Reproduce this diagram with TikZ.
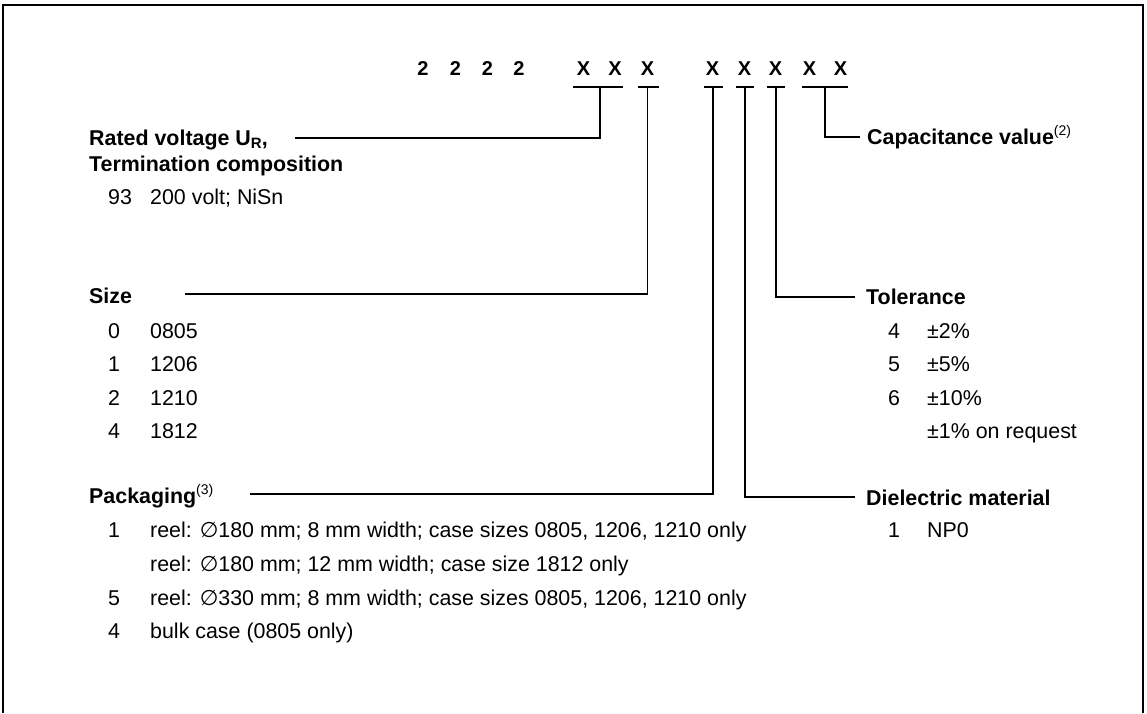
\documentclass[tikz,border=0pt]{standalone}
\usepackage{fontspec}
\setmainfont{Liberation Sans}
\newfontfamily\dejavu{DejaVu Sans}
\newcommand{\dia}{{\dejavu ∅}}
\newcommand{\supr}[1]{\raisebox{0.75ex}{\mdseries\fontsize{14}{14}\selectfont #1}}
\begin{document}
\begin{tikzpicture}[x=1pt,y=-1pt,
  lbl/.style={anchor=base west,inner sep=0pt,font=\fontsize{21.4}{24}\selectfont},
  hd/.style={anchor=base west,inner sep=0pt,font=\fontsize{21.4}{24}\selectfont\bfseries},
  code/.style={anchor=base,inner sep=0pt,font=\fontsize{20}{24}\selectfont\bfseries},
  ln/.style={line width=1.4pt},
  ul/.style={line width=1.2pt},
  frame/.style={line width=2pt}]
\useasboundingbox (0,0) rectangle (1147,713);
\draw[frame] (3,713) -- (3,5) -- (1143,5) -- (1143,713);
% code
\foreach \x/\n in {423/d1,455.5/d2,487.5/d3,519/d4}
  \node[code] (\n) at (\x,75) {2};
\foreach \x/\n in {583.5/x1,615/x2,647.5/x3,712.5/x4,744.5/x5,775.5/x6,809.5/x7,840.5/x8}
  \node[code] (\n) at (\x,75) {X};
% underlines
\draw[ul] (573,87) -- (623,87);
\draw[ul] (638,87) -- (659,87);
\draw[ul] (704,87) -- (723,87);
\draw[ul] (736,87) -- (754,87);
\draw[ul] (767,87) -- (785,87);
\draw[ul] (802,87) -- (848,87);
% bend coordinates
\coordinate (rT) at (600,87);   \coordinate (rE) at (295,138);
\coordinate (sT) at (647.5,87); \coordinate (sE) at (185,294);
\coordinate (pT) at (713,87);   \coordinate (pE) at (250,494);
\coordinate (dT) at (745,87);   \coordinate (dE) at (855,497);
\coordinate (tT) at (776,87);   \coordinate (tE) at (855,297);
\coordinate (cT) at (825,87);   \coordinate (cE) at (860,137);
\draw[ln] (rT) |- (rE);
\draw[ln] (sT) |- (sE);
\draw[ln] (pT) |- (pE);
\draw[ln] (dT) |- (dE);
\draw[ln] (tT) |- (tE);
\draw[ln] (cT) |- (cE);
% left column
\node[hd] (rated) at (89,145) {Rated voltage U\raisebox{-0.3ex}{\fontsize{15}{15}\selectfont R},};
\node[hd] (term) at (89,171) {Termination composition};
\node[lbl] (v93) at (108,204) {93};
\node[lbl] (v93t) at (150,204) {200 volt; NiSn};
\node[hd] (size) at (89,303) {Size};
\foreach \y/\a/\b in {338/0/0805,371.5/1/1206,405/2/1210,438.5/4/1812}{
  \node[lbl] at (108,\y) {\a};
  \node[lbl] at (150,\y) {\b};
}
\node[hd] (pack) at (89,503) {Packaging\supr{(3)}};
\node[lbl] at (108,537) {1};
\node[lbl] at (150,537) {reel: \dia180 mm; 8 mm width; case sizes 0805, 1206, 1210 only};
\node[lbl] at (150,571) {reel: \dia180 mm; 12 mm width; case size 1812 only};
\node[lbl] at (108,605) {5};
\node[lbl] at (150,605) {reel: \dia330 mm; 8 mm width; case sizes 0805, 1206, 1210 only};
\node[lbl] at (108,638) {4};
\node[lbl] at (150,638) {bulk case (0805 only)};
% right column
\node[hd] (cap) at (867,144) {Capacitance value\supr{(2)}};
\node[hd] (tol) at (866,304) {Tolerance};
\foreach \y/\a/\b in {338/4/±2\%,371.5/5/±5\%,405/6/±10\%}{
  \node[lbl] at (888,\y) {\a};
  \node[lbl] at (927,\y) {\b};
}
\node[lbl] at (927,438.5) {±1\% on request};
\node[hd] (diel) at (866,505) {Dielectric material};
\node[lbl] at (888,537) {1};
\node[lbl] at (927,537) {NP0};
\end{tikzpicture}
\end{document}
